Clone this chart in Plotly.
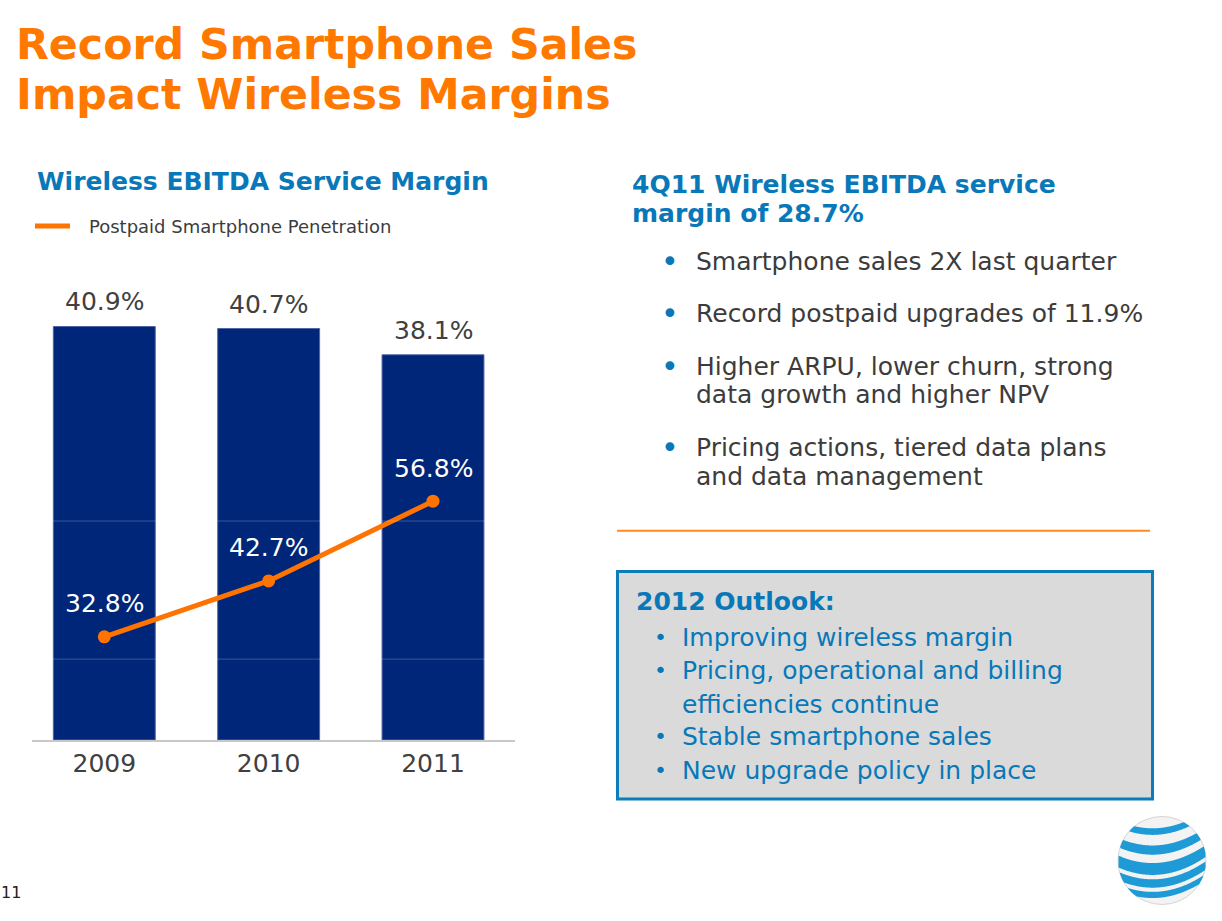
import numpy as np
import plotly.graph_objects as go

# ---------------- data ----------------
YEARS = ["2009", "2010", "2011"]
EBITDA_MARGIN = [40.9, 40.7, 38.1]          # bars (%)
SMARTPHONE_PEN = [32.8, 42.7, 56.8]         # line (%)
BAR_LABELS = ["40.9%", "40.7%", "38.1%"]
LINE_LABELS = ["32.8%", "42.7%", "56.8%"]

TITLE_LINES = ["Record Smartphone Sales", "Impact Wireless Margins"]
CHART_TITLE = "Wireless EBITDA Service Margin"
LEGEND_TEXT = "Postpaid Smartphone Penetration"
RIGHT_HEAD = ["4Q11 Wireless EBITDA service", "margin of 28.7%"]
RIGHT_BULLETS = [
    ["Smartphone sales 2X last quarter"],
    ["Record postpaid upgrades of 11.9%"],
    ["Higher ARPU, lower churn, strong", "data growth and higher NPV"],
    ["Pricing actions, tiered data plans", "and data management"],
]
OUTLOOK_HEAD = "2012 Outlook:"
OUTLOOK_BULLETS = [
    ["Improving wireless margin"],
    ["Pricing, operational and billing", "efficiencies continue"],
    ["Stable smartphone sales"],
    ["New upgrade policy in place"],
]
PAGE_NUM = "11"

# ---------------- style ----------------
W, H = 1222, 921
FONT = "DejaVu Sans"
NAVY = "#00267A"
ORANGE = "#FF7300"
TITLE_ORANGE = "#FF7800"
BLUE = "#0878B9"
GRAY = "#3C3C3C"


def px(x):
    return x / W


def py(y):
    return 1 - y / H


fig = go.Figure()
fig.add_trace(go.Bar(
    x=YEARS, y=EBITDA_MARGIN, width=0.62,
    marker=dict(color=NAVY, line=dict(color="#5066A6", width=1)),
    yaxis="y", hoverinfo="skip",
))
fig.add_trace(go.Scatter(
    x=YEARS, y=SMARTPHONE_PEN, yaxis="y2", mode="lines+markers",
    line=dict(color=ORANGE, width=5), marker=dict(color=ORANGE, size=13),
    hoverinfo="skip",
))

ann = []


def txt(s, x, y, size, color, bold=False, xanchor="left"):
    ann.append(dict(
        text=s, x=px(x), y=py(y), xref="paper", yref="paper",
        xanchor=xanchor, yanchor="middle", showarrow=False,
        font=dict(family=FONT, size=size, color=color,
                  weight=700 if bold else 400),
    ))


# data labels (category index positions on the category axis)
for i, (v, lab) in enumerate(zip(EBITDA_MARGIN, BAR_LABELS)):
    ann.append(dict(text=lab, x=i, y=v, xref="x", yref="y", yshift=24.5,
                    xanchor="center", yanchor="middle", showarrow=False,
                    font=dict(family=FONT, size=25, color="#404040")))
for i, (v, lab) in enumerate(zip(SMARTPHONE_PEN, LINE_LABELS)):
    ann.append(dict(text=lab, x=i, y=v, xref="x", yref="y2", yshift=33,
                    xanchor="center", yanchor="middle", showarrow=False,
                    font=dict(family=FONT, size=25, color="white")))

# titles
txt(TITLE_LINES[0], 14, 44.2, 42.7, TITLE_ORANGE, bold=True)
txt(TITLE_LINES[1], 14, 94.2, 42.7, TITLE_ORANGE, bold=True)
txt(CHART_TITLE, 34.5, 181.2, 25, BLUE, bold=True)
txt(LEGEND_TEXT, 86.5, 226.2, 18, GRAY)

# right text block
txt(RIGHT_HEAD[0], 630, 184.5, 25, BLUE, bold=True)
txt(RIGHT_HEAD[1], 630, 213.5, 25, BLUE, bold=True)
right_y = [[261.7], [313.8], [366.2, 394.7], [447.5, 476.7]]
for lines, ys in zip(RIGHT_BULLETS, right_y):
    txt("•", 669.5, ys[0], 30, BLUE, xanchor="center")
    for line, yy in zip(lines, ys):
        txt(line, 694, yy, 25, GRAY)

# outlook box
txt(OUTLOOK_HEAD, 633.5, 601.2, 25, BLUE, bold=True)
out_y = [[637.5], [670.8, 704], [736.5], [770]]
for lines, ys in zip(OUTLOOK_BULLETS, out_y):
    txt("•", 660, ys[0], 22, BLUE, xanchor="center")
    for line, yy in zip(lines, ys):
        txt(line, 680, yy, 25, BLUE)

txt(PAGE_NUM, -1.5, 892, 16, "#222222")

shapes = []
# faint gridlines over the bars
for gv in [8.0, 21.66]:
    shapes.append(dict(type="line", xref="x domain", x0=0, x1=1, yref="y",
                       y0=gv, y1=gv, layer="above",
                       line=dict(color="rgba(255,255,255,0.22)", width=1)))
# legend swatch
shapes.append(dict(type="line", xref="paper", yref="paper",
                   x0=px(35), x1=px(70), y0=py(226), y1=py(226),
                   line=dict(color=ORANGE, width=5)))
# orange rule
shapes.append(dict(type="line", xref="paper", yref="paper",
                   x0=px(617), x1=px(1150), y0=py(530.7), y1=py(530.7),
                   line=dict(color="#FF8A1E", width=2)))
# outlook box
shapes.append(dict(type="rect", xref="paper", yref="paper",
                   x0=px(617.5), x1=px(1152.5), y0=py(571.5), y1=py(799),
                   fillcolor="#DADADA", line=dict(color="#0A7DBA", width=3),
                   layer="below"))

# AT&T-style globe
cx, cy, R = 1162, 860.5, 44
shapes.append(dict(type="circle", xref="paper", yref="paper",
                   x0=px(cx - R), x1=px(cx + R), y0=py(cy + R), y1=py(cy - R),
                   fillcolor="#F3F3F3", line=dict(color="#D5D5D5", width=1)))
bands = [(-0.67, 0.15), (-0.25, 0.21), (0.18, 0.27), (0.51, 0.19), (0.77, 0.14)]
for c, t in bands:
    top_pts, bot_pts = [], []
    for x in np.linspace(-1, 1, 161):
        s = np.sqrt(max(0.0, 1 - x * x))
        mid = c - 0.28 * x * x - 0.12 * x
        up = max(mid - t / 2, -s)
        lo = min(mid + t / 2, s)
        if up < lo:
            top_pts.append((x, up))
            bot_pts.append((x, lo))
    pts = top_pts + bot_pts[::-1]
    path = "M " + " L ".join(f"{px(cx + R * a):.5f},{py(cy + R * b):.5f}" for a, b in pts) + " Z"
    shapes.append(dict(type="path", path=path, xref="paper", yref="paper",
                       fillcolor="#1E9BD7", line=dict(width=0)))

# plot geometry
x_left, x_right = 32, 515
y_bottom, y_top = 740, 290
spacing = 164.35
c0 = 104.3
xr0 = -(c0 - x_left) / spacing
xr1 = 2 + (x_right - (c0 + 2 * spacing)) / spacing

fig.update_layout(
    width=W, height=H, autosize=False,
    margin=dict(l=0, r=0, t=0, b=0),
    paper_bgcolor="white", plot_bgcolor="white",
    showlegend=False,
    font=dict(family=FONT),
    xaxis=dict(domain=[px(x_left), px(x_right)], type="category",
               range=[xr0, xr1], showline=True, linecolor="#C8C8C8",
               linewidth=1.5, ticks="", showgrid=False, zeroline=False,
               tickfont=dict(family=FONT, size=25, color="#404040")),
    yaxis=dict(domain=[py(y_bottom), py(y_top)], range=[0, (y_bottom - y_top) / 10.11],
               visible=False, showgrid=False, zeroline=False),
    yaxis2=dict(overlaying="y", side="right",
                range=[14.55, 14.55 + (y_bottom - y_top) / 5.652],
                visible=False, showgrid=False, zeroline=False),
    annotations=ann,
    shapes=shapes,
)

fig.write_html("out.html")
